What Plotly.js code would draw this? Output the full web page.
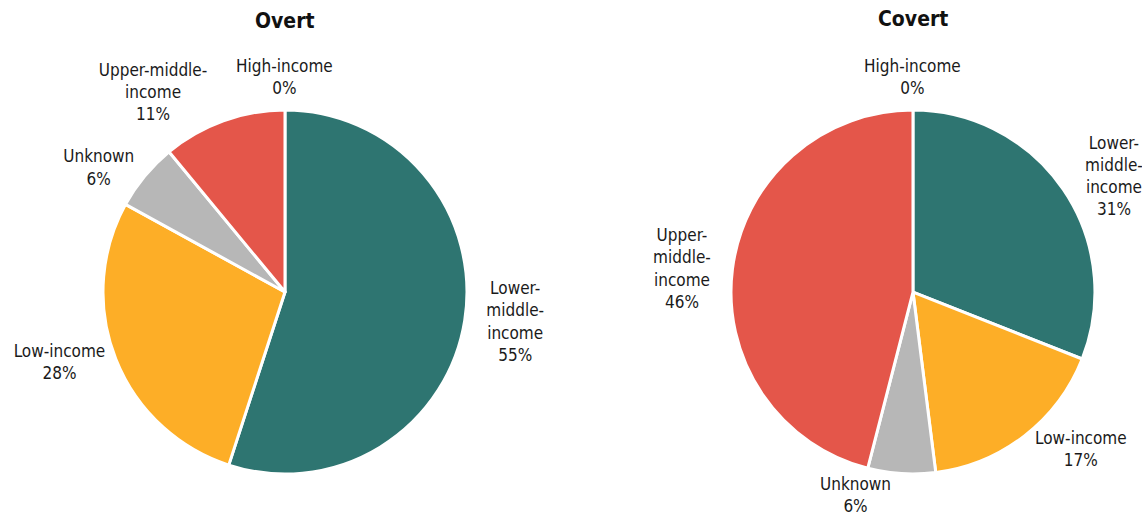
<!DOCTYPE html>
<html>
<head>
<meta charset="utf-8">
<script src="https://cdn.plot.ly/plotly-3.0.1.min.js"></script>
<style>html,body{margin:0;padding:0;background:#fff;}#chart{width:1142px;height:531px;}</style>
</head>
<body>
<div id="chart"></div>
<script>
// Categories (clockwise from 12 o'clock)
const categories = ["High-income", "Lower-middle-income", "Low-income", "Unknown", "Upper-middle-income"];
// Display labels as wrapped in each panel
const overtLabels = ["High-income", "Lower-<br>middle-<br>income", "Low-income", "Unknown", "Upper-middle-<br>income"];
const covertLabels = ["High-income", "Lower-<br>middle-<br>income", "Low-income", "Unknown", "Upper-<br>middle-<br>income"];
// Shares (%)
const overtValues = [0, 55, 28, 6, 11];
const covertValues = [0, 31, 17, 6, 46];
const panelTitles = ["Overt", "Covert"];
const colors = ["#7A9CC6", "#2E7571", "#FDAE27", "#B7B7B7", "#E4564A"];

const FONT = '"Liberation Sans Narrow", "DejaVu Sans Condensed", "Arial Narrow", sans-serif';
const PIE_Y = [0.1073, 0.7928];
const OVERT_X = [0.0902, 0.4089];
const COVERT_X = [0.6401, 0.9588];

// Zero-value slices get their label centred above the pie (annotation), others go outside.
function mkText(lbls, vals) {
  return lbls.map((l, i) => vals[i] === 0 ? "" : l + "<br>" + vals[i] + "%");
}

function pieTrace(vals, lbls, domainX) {
  return {
    type: "pie",
    labels: categories,
    values: vals,
    text: mkText(lbls, vals),
    textinfo: "text",
    textposition: "outside",
    sort: false,
    direction: "clockwise",
    rotation: 0,
    marker: {colors: colors, line: {color: "#ffffff", width: 3}},
    outsidetextfont: {family: FONT, size: 17, color: "#1a1a1a"},
    domain: {x: domainX, y: PIE_Y},
    hoverinfo: "skip",
    showlegend: false,
    automargin: false
  };
}

function zeroLabels(vals, lbls, domainX) {
  const out = [];
  vals.forEach((v, i) => {
    if (v === 0) {
      out.push({
        text: lbls[i] + "<br>" + v + "%",
        x: (domainX[0] + domainX[1]) / 2, y: 1 - 77 / 531,
        xref: "paper", yref: "paper", showarrow: false,
        xanchor: "center", yanchor: "middle", align: "center",
        font: {family: FONT, size: 17, color: "#1a1a1a"}
      });
    }
  });
  return out;
}

const data = [
  pieTrace(overtValues, overtLabels, OVERT_X),
  pieTrace(covertValues, covertLabels, COVERT_X)
];

const layout = {
  width: 1142,
  height: 531,
  margin: {l: 0, r: 0, t: 0, b: 0},
  paper_bgcolor: "#ffffff",
  showlegend: false,
  font: {family: FONT, color: "#1a1a1a"},
  annotations: [
    {text: "<b>" + panelTitles[0] + "</b>", x: 0.2495, y: 1 - 21/531, xref: "paper", yref: "paper",
     showarrow: false, xanchor: "center", yanchor: "middle", font: {family: FONT, size: 21, color: "#111"}},
    {text: "<b>" + panelTitles[1] + "</b>", x: 0.7995, y: 1 - 19/531, xref: "paper", yref: "paper",
     showarrow: false, xanchor: "center", yanchor: "middle", font: {family: FONT, size: 21, color: "#111"}}
  ].concat(zeroLabels(overtValues, overtLabels, OVERT_X), zeroLabels(covertValues, covertLabels, COVERT_X))
};

Plotly.newPlot("chart", data, layout, {staticPlot: true, displayModeBar: false});
</script>
</body>
</html>
